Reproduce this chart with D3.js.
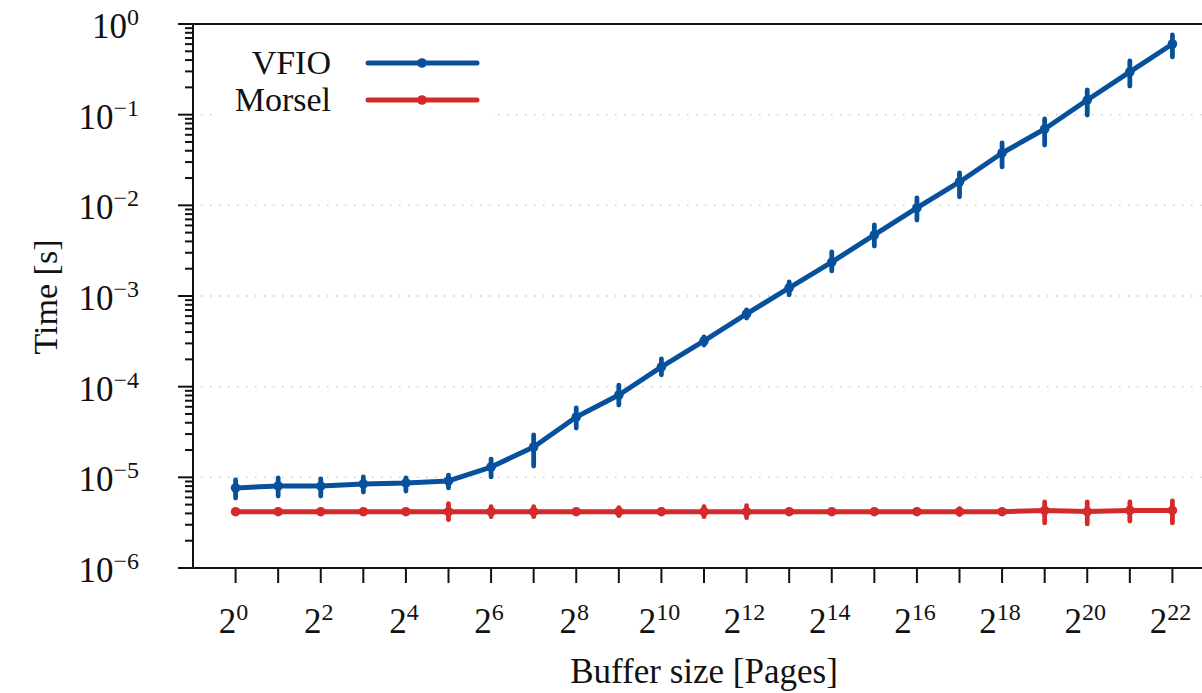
<!DOCTYPE html>
<html lang="en">
<head>
  <meta charset="UTF-8">
  <title>VFIO vs Morsel</title>
  <style>
    body, html {
      margin: 0;
      padding: 0;
      background: #fff;
    }
    svg text {
      font-family: "Liberation Serif", "DejaVu Serif", serif;
      fill: #111;
    }
  </style>
</head>
<body>
  <svg id="svg" width="1202" height="693"></svg>
  <script src="https://d3js.org/d3.v7.min.js"></script>
  <script>
    // buffer size = 2^exp pages
    const pageExp = [0, 1, 2, 3, 4, 5, 6, 7, 8, 9, 10, 11, 12, 13, 14, 15, 16, 17, 18, 19, 20, 21, 22]

    const vfioMean = [7.64e-6, 8.03e-6, 8.0e-6, 8.45e-6, 8.67e-6, 9.12e-6, 1.30e-5, 2.16e-5, 4.63e-5, 8.09e-5,
      1.65e-4, 3.19e-4, 6.34e-4, 1.23e-3, 2.37e-3, 4.71e-3, 9.35e-3, 1.81e-2, 3.78e-2, 6.95e-2, 0.145, 0.296, 0.602]
    const vfioLow = [5.92e-6, 6.22e-6, 6.22e-6, 6.89e-6, 7.07e-6, 7.64e-6, 1.01e-5, 1.33e-5, 3.50e-5, 6.28e-5,
      1.35e-4, 2.88e-4, 5.72e-4, 1.03e-3, 1.89e-3, 3.56e-3, 6.89e-3, 1.24e-2, 2.65e-2, 4.63e-2, 9.91e-2, 0.207, 0.433]
    const vfioHigh = [9.35e-6, 9.84e-6, 9.6e-6, 1.01e-5, 9.84e-6, 1.06e-5, 1.59e-5, 2.93e-5, 5.82e-5, 1.04e-4,
      2.02e-4, 3.53e-4, 7.01e-4, 1.43e-3, 3.06e-3, 6.07e-3, 1.21e-2, 2.28e-2, 4.87e-2, 8.96e-2, 0.187, 0.391, 0.756]

    const morselMean = [4.18e-6, 4.18e-6, 4.18e-6, 4.18e-6, 4.18e-6, 4.18e-6, 4.18e-6, 4.18e-6, 4.18e-6, 4.18e-6,
      4.18e-6, 4.18e-6, 4.18e-6, 4.18e-6, 4.18e-6, 4.18e-6, 4.18e-6, 4.18e-6, 4.18e-6, 4.31e-6, 4.19e-6, 4.31e-6, 4.31e-6]
    const morselLow = [4.18e-6, 4.18e-6, 4.18e-6, 4.18e-6, 4.18e-6, 3.41e-6, 3.68e-6, 3.68e-6, 4.18e-6, 3.78e-6,
      4.18e-6, 3.68e-6, 3.59e-6, 4.18e-6, 4.18e-6, 4.18e-6, 4.18e-6, 3.88e-6, 4.18e-6, 3.14e-6, 3.06e-6, 3.30e-6, 3.14e-6]
    const morselHigh = [4.18e-6, 4.18e-6, 4.18e-6, 4.18e-6, 4.18e-6, 5.12e-6, 4.74e-6, 4.74e-6, 4.18e-6, 4.62e-6,
      4.18e-6, 4.74e-6, 4.86e-6, 4.18e-6, 4.18e-6, 4.18e-6, 4.18e-6, 4.51e-6, 4.18e-6, 5.35e-6, 5.35e-6, 5.35e-6, 5.48e-6]

    const xLabelExp = [0, 2, 4, 6, 8, 10, 12, 14, 16, 18, 20, 22]
    const yLabelExp = [0, -1, -2, -3, -4, -5, -6]

    const seriesNames = ['VFIO', 'Morsel']
    const seriesColors = ['#07519c', '#d42a2b']

    const svg = d3.select('#svg')

    const plotLeft = 193, plotTop = 24, plotBottom = 568

    const x = d3.scaleLog().base(2)
      .domain([2 ** -1, 2 ** 23])
      .range([plotLeft, 1215])

    const y = d3.scaleLog()
      .domain([1e-6, 1])
      .range([plotBottom, plotTop])

    // dotted gridlines at each decade
    svg.append('g')
      .selectAll('line')
      .data(yLabelExp.filter(e => e < 0 && e > -6))
      .enter()
      .append('line')
      .attr('x1', plotLeft + 8)
      .attr('x2', 1202)
      .attr('y1', e => y(10 ** e))
      .attr('y2', e => y(10 ** e))
      .attr('stroke', '#c8c8c8')
      .attr('stroke-width', 1.3)
      .attr('stroke-dasharray', '1.5,7.5')

    const series = [
      { name: seriesNames[0], color: seriesColors[0], mean: vfioMean, low: vfioLow, high: vfioHigh },
      { name: seriesNames[1], color: seriesColors[1], mean: morselMean, low: morselLow, high: morselHigh }
    ]

    const lineGen = d3.line()
      .x(d => x(2 ** d.e))
      .y(d => y(d.v))

    // draw morsel first, vfio on top
    series.slice().reverse().forEach(s => {
      const pts = pageExp.map((e, i) => ({ e: e, v: s.mean[i], lo: s.low[i], hi: s.high[i] }))
      const g = svg.append('g')

      g.append('path')
        .datum(pts)
        .attr('d', lineGen)
        .attr('fill', 'none')
        .attr('stroke', s.color)
        .attr('stroke-width', 5)
        .attr('stroke-linejoin', 'round')

      // error bars
      g.selectAll('line.err')
        .data(pts)
        .enter()
        .append('line')
        .attr('class', 'err')
        .attr('x1', d => x(2 ** d.e))
        .attr('x2', d => x(2 ** d.e))
        .attr('y1', d => y(d.lo))
        .attr('y2', d => y(d.hi))
        .attr('stroke', s.color)
        .attr('stroke-width', 4.8)
        .attr('stroke-linecap', 'round')

      g.selectAll('circle')
        .data(pts)
        .enter()
        .append('circle')
        .attr('cx', d => x(2 ** d.e))
        .attr('cy', d => y(d.v))
        .attr('r', 4.8)
        .attr('fill', s.color)
    })

    // legend
    const legend = svg.append('g')
    legend.append('rect')
      .attr('x', 214).attr('y', 36)
      .attr('width', 276).attr('height', 88)
      .attr('fill', '#fff')

    series.forEach((s, i) => {
      const ly = 63 + i * 37
      legend.append('line')
        .attr('x1', 368).attr('x2', 477)
        .attr('y1', ly).attr('y2', ly)
        .attr('stroke', s.color)
        .attr('stroke-width', 5)
        .attr('stroke-linecap', 'round')
      legend.append('circle')
        .attr('cx', 422).attr('cy', ly)
        .attr('r', 4.8)
        .attr('fill', s.color)
      legend.append('text')
        .attr('x', 331).attr('y', ly + 11)
        .attr('text-anchor', 'end')
        .attr('font-size', 34)
        .text(s.name)
    })

    // axes frame
    const axes = svg.append('g')
      .attr('stroke', '#111')
      .attr('stroke-width', 2)

    axes.append('line')
      .attr('x1', plotLeft).attr('x2', plotLeft)
      .attr('y1', plotTop).attr('y2', plotBottom)
    axes.append('line')
      .attr('x1', plotLeft - 15).attr('x2', 1202)
      .attr('y1', plotTop).attr('y2', plotTop)
    axes.append('line')
      .attr('x1', plotLeft - 15).attr('x2', 1202)
      .attr('y1', plotBottom).attr('y2', plotBottom)

    // y major ticks
    axes.selectAll('line.ymaj')
      .data(yLabelExp)
      .enter()
      .append('line')
      .attr('class', 'ymaj')
      .attr('x1', plotLeft - 15).attr('x2', plotLeft)
      .attr('y1', e => y(10 ** e)).attr('y2', e => y(10 ** e))

    // y minor ticks
    const minor = []
    yLabelExp.filter(e => e < 0).forEach(e => {
      for (let m = 2; m <= 9; m++) minor.push(m * 10 ** e)
    })
    axes.selectAll('line.ymin')
      .data(minor)
      .enter()
      .append('line')
      .attr('class', 'ymin')
      .attr('x1', plotLeft - 8).attr('x2', plotLeft)
      .attr('y1', d => y(d)).attr('y2', d => y(d))

    // x ticks
    axes.selectAll('line.xt')
      .data(pageExp)
      .enter()
      .append('line')
      .attr('class', 'xt')
      .attr('x1', e => x(2 ** e)).attr('x2', e => x(2 ** e))
      .attr('y1', plotBottom).attr('y2', plotBottom + 15)

    // y tick labels
    const yl = svg.append('g')
      .selectAll('text')
      .data(yLabelExp)
      .enter()
      .append('text')
      .attr('x', 139)
      .attr('y', e => y(10 ** e) + 14)
      .attr('text-anchor', 'end')
      .attr('font-size', 35)
    yl.append('tspan').text('10')
    yl.append('tspan')
      .attr('font-size', 24)
      .attr('dy', -13)
      .text(e => e === 0 ? '0' : '\u2212' + (-e))

    // x tick labels
    const xl = svg.append('g')
      .selectAll('text')
      .data(xLabelExp)
      .enter()
      .append('text')
      .attr('x', e => x(2 ** e) - 2)
      .attr('y', 633)
      .attr('text-anchor', 'middle')
      .attr('font-size', 35)
    xl.append('tspan').text('2')
    xl.append('tspan')
      .attr('font-size', 24)
      .attr('dy', -13)
      .text(e => String(e))

    // axis titles
    svg.append('text')
      .attr('transform', 'translate(57, 297) rotate(-90)')
      .attr('text-anchor', 'middle')
      .attr('font-size', 34)
      .text('Time [s]')

    svg.append('text')
      .attr('x', 704)
      .attr('y', 683)
      .attr('text-anchor', 'middle')
      .attr('font-size', 35)
      .text('Buffer size [Pages]')
  </script>
</body>
</html>
